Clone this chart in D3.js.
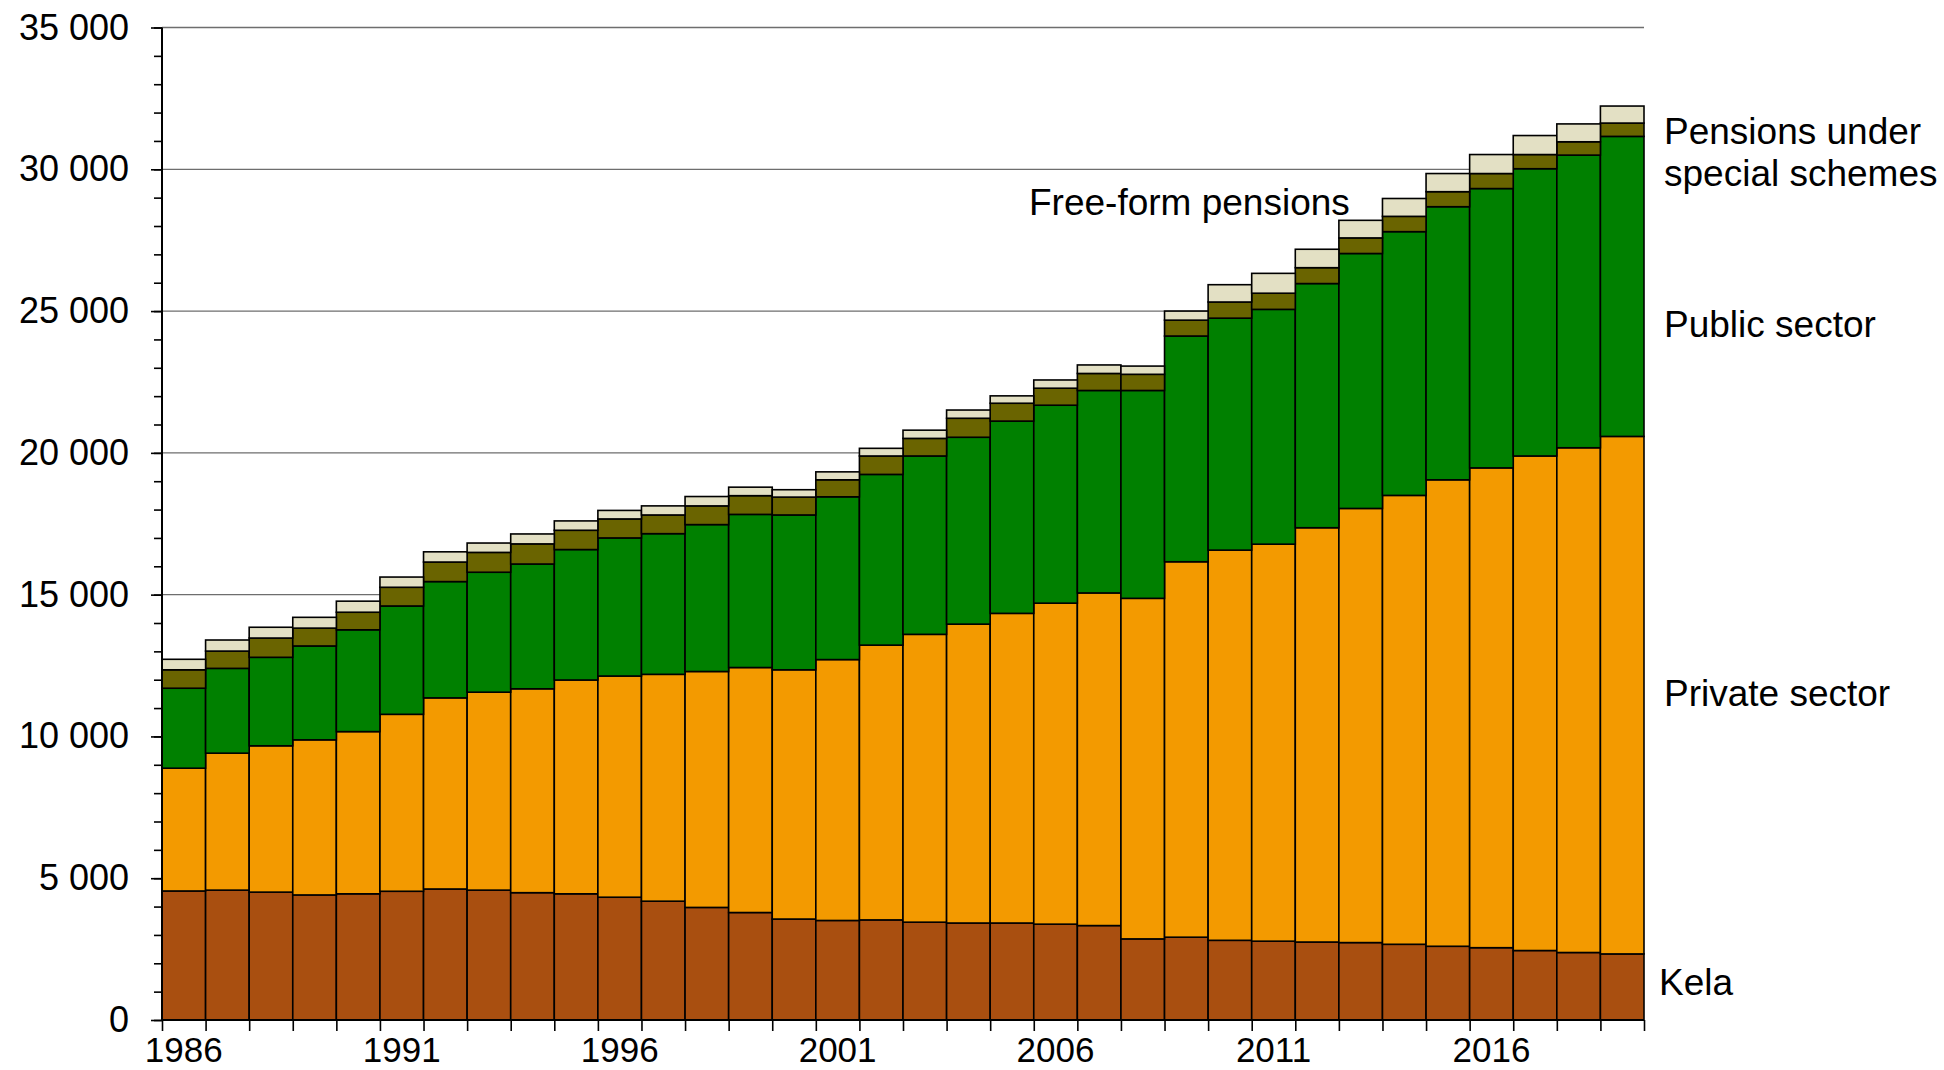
<!DOCTYPE html>
<html>
<head>
<meta charset="utf-8">
<script src="https://cdn.jsdelivr.net/npm/d3@7"></script>
<style>
  body { margin: 0; background: #fff; }
  svg text { font-family: "Liberation Sans", Arial, sans-serif; fill: #000; }
</style>
</head>
<body>
<div id="dataviz"></div>
<script>
// years on the x axis
const years = d3.range(1986, 2020);
const yearLabels = [1986, 1991, 1996, 2001, 2006, 2011, 2016];

// series (stack order bottom -> top)
const seriesKeys = ["kela", "private", "public", "freeform", "special"];
const seriesNames = ["Kela", "Private sector", "Public sector", "Free-form pensions", "Pensions under special schemes"];
const seriesColors = ["#a94f10", "#f39a00", "#008000", "#6a6400", "#e3e0c4"];

const kela = [4550,4580,4510,4410,4450,4540,4620,4580,4490,4450,4330,4190,3970,3790,3560,3510,3530,
  3450,3420,3420,3380,3330,2860,2920,2810,2780,2750,2730,2670,2600,2550,2450,2380,2330];
const privateSector = [4330,4830,5160,5470,5720,6240,6740,6980,7190,7540,7800,8000,8320,8640,8790,9200,9690,
  10150,10540,10920,11320,11730,12010,13240,13760,14000,14610,15310,15830,16450,16920,17440,17800,18250];
const publicSector = [2820,2990,3120,3310,3590,3820,4100,4230,4400,4600,4870,4960,5180,5400,5460,5740,6020,
  6290,6590,6780,6980,7140,7330,7960,8180,8280,8610,8990,9300,9630,9850,10130,10320,10580];
const freeForm = [650,610,680,630,620,660,690,700,710,680,670,660,660,660,630,600,650,
  620,670,630,600,600,570,560,570,570,560,550,540,530,530,500,470,470];
const specialSchemes = [370,390,380,380,390,360,360,330,350,330,300,320,330,300,260,280,270,
  290,290,260,290,300,290,320,610,700,650,620,630,640,670,670,630,600];

const yTicks = [0, 5000, 10000, 15000, 20000, 25000, 30000, 35000];
const gridValues = [15000, 20000, 25000, 30000, 35000];

const rows = years.map((yr, i) => ({
  year: yr,
  kela: kela[i],
  private: privateSector[i],
  public: publicSector[i],
  freeform: freeForm[i],
  special: specialSchemes[i]
}));

const W = 1944, H = 1070;
const plot = { left: 162, right: 1644, top: 27.5, bottom: 1020 };

const svg = d3.select("#dataviz")
  .append("svg")
    .attr("width", W)
    .attr("height", H);

svg.append("rect").attr("width", W).attr("height", H).attr("fill", "#fff");

const x = d3.scaleBand()
  .domain(years)
  .range([plot.left, plot.right])
  .padding(0);

const xEdges = d3.scaleLinear()
  .domain([years[0], years[years.length - 1] + 1])
  .range([plot.left, plot.right]);

const y = d3.scaleLinear()
  .domain([0, 35000])
  .range([plot.bottom, plot.top]);

const fmt = d3.formatLocale({ decimal: ",", thousands: "\u00a0", grouping: [3], currency: ["", ""] }).format(",");

// gridlines
svg.append("g")
  .selectAll("line")
  .data(gridValues)
  .enter()
  .append("line")
    .attr("x1", plot.left)
    .attr("x2", plot.right)
    .attr("y1", d => y(d))
    .attr("y2", d => y(d))
    .attr("stroke", "#6e6e6e")
    .attr("stroke-width", 1.3);

// stacked bars
const stacked = d3.stack().keys(seriesKeys)(rows);

svg.append("g")
  .selectAll("g")
  .data(stacked)
  .enter()
  .append("g")
    .attr("fill", (d, i) => seriesColors[i])
  .selectAll("rect")
  .data(d => d)
  .enter()
  .append("rect")
    .attr("x", d => x(d.data.year))
    .attr("width", x.bandwidth())
    .attr("y", d => y(d[1]))
    .attr("height", d => y(d[0]) - y(d[1]))
    .attr("stroke", "#000")
    .attr("stroke-width", 1.6);

// y axis: minor ticks
svg.append("g")
  .attr("transform", "translate(" + plot.left + ",0)")
  .call(d3.axisLeft(y).tickValues(d3.range(0, 35001, 1000)).tickSize(8).tickFormat(""))
  .call(g => g.select(".domain").remove())
  .call(g => g.selectAll("line").attr("stroke", "#000").attr("stroke-width", 1.6));

// y axis: major ticks + labels
svg.append("g")
  .attr("transform", "translate(" + plot.left + ",0)")
  .call(d3.axisLeft(y).tickValues(yTicks).tickSize(11).tickPadding(22).tickFormat(d => fmt(d)))
  .call(g => g.select(".domain").attr("stroke", "#000").attr("stroke-width", 2).attr("d", "M0," + plot.top + "V" + plot.bottom))
  .call(g => g.selectAll("line").attr("stroke", "#000").attr("stroke-width", 1.6))
  .call(g => g.selectAll("text").style("font-size", "36px").attr("fill", "#000"));

// x axis: ticks at bar boundaries
svg.append("g")
  .attr("transform", "translate(0," + plot.bottom + ")")
  .call(d3.axisBottom(xEdges).tickValues(d3.range(years[0], years[years.length - 1] + 2)).tickSize(11).tickFormat(""))
  .call(g => g.select(".domain").attr("stroke", "#000").attr("stroke-width", 2).attr("d", "M" + plot.left + ",0H" + plot.right))
  .call(g => g.selectAll("line").attr("stroke", "#000").attr("stroke-width", 1.6));

// x axis: year labels under bars
svg.append("g")
  .attr("transform", "translate(0," + plot.bottom + ")")
  .call(d3.axisBottom(x).tickValues(yearLabels).tickSize(0).tickPadding(17))
  .call(g => g.select(".domain").remove())
  .call(g => g.selectAll("text").style("font-size", "35px").attr("fill", "#000"));

// series labels
const labels = [
  { text: ["Pensions under", "special schemes"], x: 1664, y: 144 },
  { text: ["Free-form pensions"], x: 1029, y: 215 },
  { text: ["Public sector"], x: 1664, y: 337 },
  { text: ["Private sector"], x: 1664, y: 706 },
  { text: ["Kela"], x: 1659, y: 995 }
];

labels.forEach(l => {
  const t = svg.append("text")
    .attr("x", l.x)
    .attr("y", l.y)
    .style("font-size", "37px");
  l.text.forEach((line, i) => {
    t.append("tspan")
      .attr("x", l.x)
      .attr("dy", i === 0 ? 0 : 42)
      .text(line);
  });
});
</script>
</body>
</html>
